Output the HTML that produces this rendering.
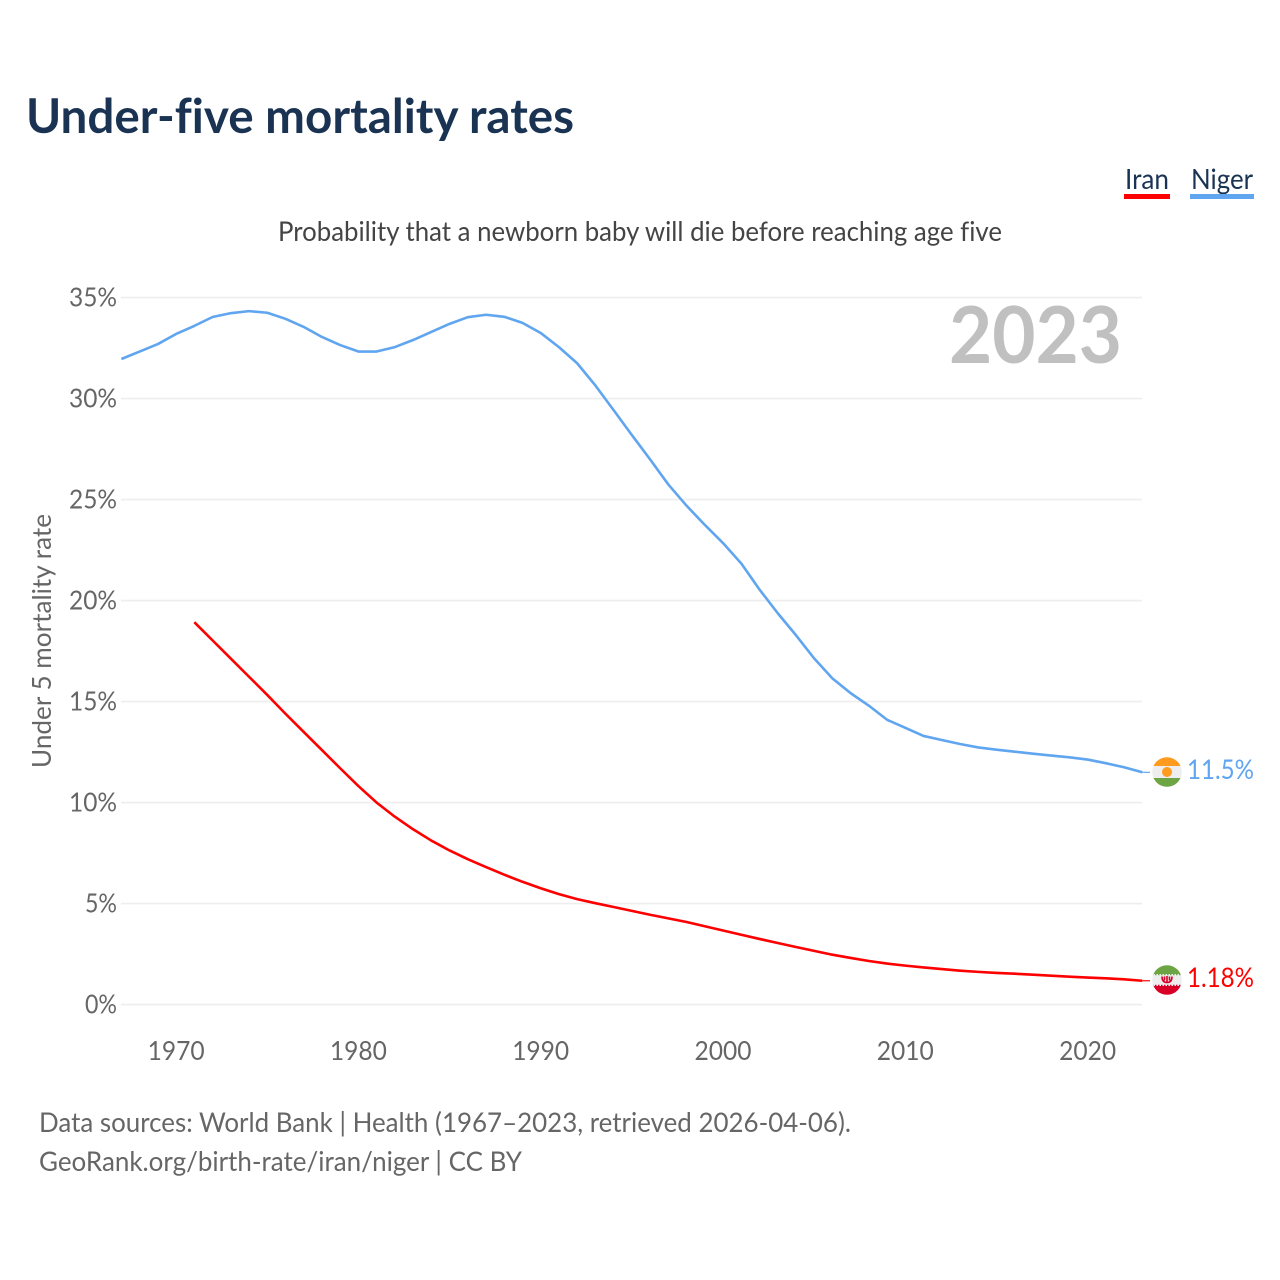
<!DOCTYPE html>
<html lang="en">
<head>
<meta charset="utf-8">
<title>Under-five mortality rates</title>
<style>
  html, body { margin: 0; padding: 0; background: #fff; }
  #chart { display: block; font-family: "Lato", "Carlito", "Liberation Sans", sans-serif; font-variant-ligatures: none; }
</style>
</head>
<body>
<svg id="chart" xmlns="http://www.w3.org/2000/svg" width="1280" height="1280" viewBox="0 0 1280 1280">
  <rect width="1280" height="1280" fill="#fff"/>
  <text x="26" y="133" font-size="48" font-weight="700" fill="#1a3353" textLength="548" lengthAdjust="spacingAndGlyphs">Under-five mortality rates</text>
  <text x="1125" y="189" font-size="28" fill="#1a3353" textLength="44" lengthAdjust="spacingAndGlyphs">Iran</text>
  <rect x="1124" y="194" width="46" height="5" fill="#ff0000"/>
  <text x="1191" y="189" font-size="28" fill="#1a3353" textLength="62" lengthAdjust="spacingAndGlyphs">Niger</text>
  <rect x="1190" y="194" width="64" height="5" fill="#60a5ef"/>
  <text x="278" y="241" font-size="27.5" fill="#444" textLength="724" lengthAdjust="spacingAndGlyphs">Probability that a newborn baby will die before reaching age five</text>
  <g id="grid"></g>
  <text x="949" y="363" font-size="79" font-weight="700" fill="#c0c0c0" textLength="173" lengthAdjust="spacingAndGlyphs">2023</text>
  <text transform="translate(51,641) rotate(-90)" text-anchor="middle" font-size="26" fill="#666" textLength="254" lengthAdjust="spacingAndGlyphs">Under 5 mortality rate</text>
  <g id="yticks"></g>
  <g id="xticks"></g>
  <g id="series"></g>

  <defs>
    <clipPath id="clip-niger"><circle cx="1167" cy="772" r="14.8"/></clipPath>
    <clipPath id="clip-iran"><circle cx="1167" cy="980" r="14.8"/></clipPath>
  </defs>
  <g clip-path="url(#clip-niger)">
    <rect x="1152" y="757" width="30" height="30" fill="#eeeeee"/>
    <rect x="1152" y="757" width="30" height="9" fill="#ff9b1f"/>
    <rect x="1152" y="778" width="30" height="9" fill="#6da544"/>
    <circle cx="1167" cy="772" r="5" fill="#ff9b1f"/>
  </g>
  <g clip-path="url(#clip-iran)">
    <rect x="1152" y="965" width="30" height="30" fill="#eeeeee"/>
    <rect x="1152" y="965" width="30" height="9" fill="#6da544"/>
    <rect x="1152" y="986" width="30" height="9" fill="#d80027"/>
    <line x1="1152" x2="1182" y1="974.5" y2="974.5" stroke="#6da544" stroke-width="1.5" stroke-dasharray="1.5 1.5"/>
    <line x1="1152" x2="1182" y1="985.5" y2="985.5" stroke="#d80027" stroke-width="1.5" stroke-dasharray="1.5 1.5"/>
    <path d="M1162 976.5 q0 6 5 6 q5 0 5 -6 M1167 976 v7 M1164.5 976.5 v4 M1169.5 976.5 v4" fill="none" stroke="#d80027" stroke-width="1.6"/>
  </g>
  <text x="1187" y="779" font-size="27" fill="#60a5ef" textLength="67" lengthAdjust="spacingAndGlyphs">11.5%</text>
  <text x="1187" y="987" font-size="27" fill="#ff0000" textLength="67" lengthAdjust="spacingAndGlyphs">1.18%</text>

  <text x="39" y="1132" font-size="27" fill="#666" textLength="812" lengthAdjust="spacingAndGlyphs">Data sources: World Bank | Health (1967–2023, retrieved 2026-04-06).</text>
  <text x="39" y="1171" font-size="27" fill="#666" textLength="483" lengthAdjust="spacingAndGlyphs">GeoRank.org/birth-rate/iran/niger | CC BY</text>
</svg>
<script>
const yTicks = [0, 5, 10, 15, 20, 25, 30, 35];
const xTicks = [1970, 1980, 1990, 2000, 2010, 2020];
const nigerStartYear = 1967;
const nigerValues = [31.96, 32.33, 32.7, 33.2, 33.6, 34.04, 34.23, 34.33, 34.25, 33.95, 33.55, 33.05, 32.65, 32.33, 32.33, 32.55, 32.9, 33.3, 33.7, 34.03, 34.15, 34.05, 33.75, 33.25, 32.55, 31.75, 30.65, 29.43, 28.2, 26.99, 25.75, 24.7, 23.75, 22.85, 21.84, 20.55, 19.38, 18.29, 17.14, 16.15, 15.42, 14.8, 14.1, 13.7, 13.3, 13.1, 12.9, 12.73, 12.62, 12.52, 12.42, 12.33, 12.24, 12.13, 11.95, 11.75, 11.5];
const iranStartYear = 1971;
const iranValues = [18.93, 18.03, 17.13, 16.23, 15.33, 14.4, 13.5, 12.6, 11.7, 10.82, 10.0, 9.3, 8.68, 8.12, 7.63, 7.2, 6.81, 6.43, 6.08, 5.76, 5.47, 5.22, 5.02, 4.83, 4.64, 4.45, 4.27, 4.09, 3.88, 3.67, 3.46, 3.25, 3.05, 2.85, 2.66, 2.47, 2.31, 2.16, 2.03, 1.93, 1.84, 1.76, 1.68, 1.62, 1.57, 1.53, 1.48, 1.43, 1.38, 1.34, 1.3, 1.25, 1.18];

const NS = 'http://www.w3.org/2000/svg';
const xScale = function (year) { return 121.4 + (year - 1967) * 18.23; };
const yScale = function (pct) { return 1004.6 - pct * 20.2; };

function make(tag, parent, attrs) {
  const el = document.createElementNS(NS, tag);
  Object.keys(attrs).forEach(function (k) { el.setAttribute(k, attrs[k]); });
  parent.appendChild(el);
  return el;
}

const grid = document.getElementById('grid');
const yGroup = document.getElementById('yticks');
yTicks.forEach(function (t) {
  const line = make('line', grid, { x1: 121, x2: 1142, y1: yScale(t), y2: yScale(t), stroke: '#eeeeee', 'stroke-width': 1.6 });
  
  
  const text = t + '%';
  const label = make('text', yGroup, { x: 117, y: yScale(t) + 9, 'text-anchor': 'end', 'font-size': 26, fill: '#666', textLength: text.length * 16, lengthAdjust: 'spacingAndGlyphs' });
  
  
  label.textContent = text;
});

const xGroup = document.getElementById('xticks');
xTicks.forEach(function (t) {
  const label = make('text', xGroup, { x: xScale(t), y: 1060, 'text-anchor': 'middle', 'font-size': 26, fill: '#666', textLength: 57, lengthAdjust: 'spacingAndGlyphs' });
  
  
  label.textContent = t;
});

function linePoints(startYear, values) {
  return values.map(function (v, i) {
    return xScale(startYear + i).toFixed(2) + ',' + yScale(v).toFixed(2);
  }).join(' ');
}

const series = document.getElementById('series');
const nigerLine = make('polyline', series, { points: linePoints(nigerStartYear, nigerValues), fill: 'none', stroke: '#60a5ef', 'stroke-width': 2.6, 'stroke-linejoin': 'round' });


const iranLine = make('polyline', series, { points: linePoints(iranStartYear, iranValues), fill: 'none', stroke: '#ff0000', 'stroke-width': 2.6, 'stroke-linejoin': 'round' });



const lastNiger = nigerValues[nigerValues.length - 1];
const lastIran = iranValues[iranValues.length - 1];
const nigerLead = make('line', series, { x1: xScale(2023), x2: 1150, y1: yScale(lastNiger), y2: yScale(lastNiger), stroke: '#60a5ef', 'stroke-width': 1.2 });


const iranLead = make('line', series, { x1: xScale(2023), x2: 1150, y1: yScale(lastIran), y2: yScale(lastIran), stroke: '#ff0000', 'stroke-width': 1.2 });


</script>
</body>
</html>
